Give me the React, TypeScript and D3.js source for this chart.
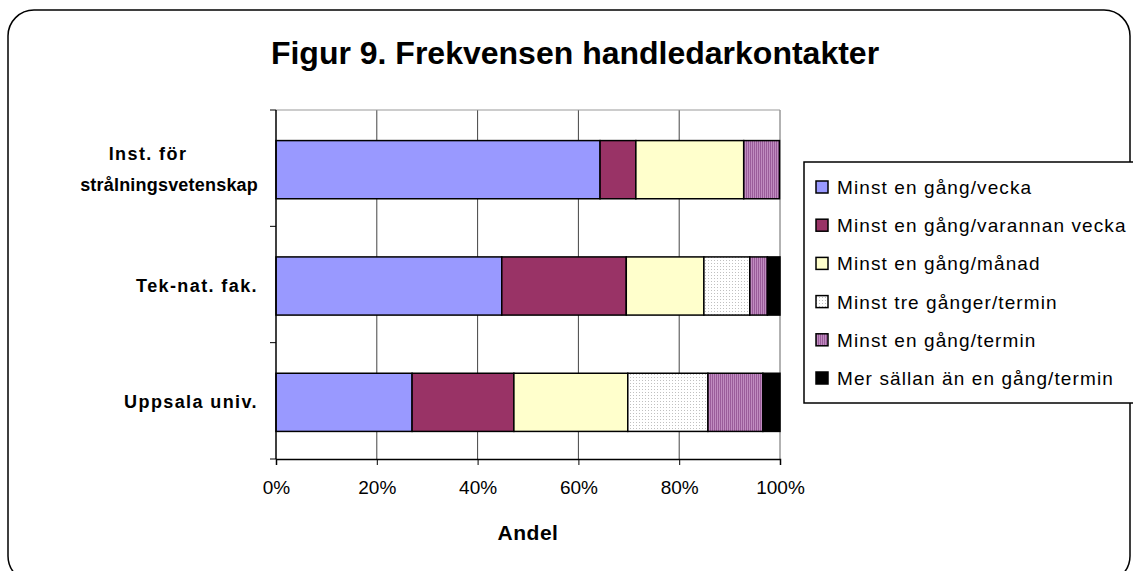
import React, { useRef, useEffect } from 'react';
import * as d3 from 'd3';

const categories = ['Inst. för strålningsvetenskap', 'Tek-nat. fak.', 'Uppsala univ.'];
const categoryLines = [['Inst. för', 'strålningsvetenskap'], ['Tek-nat. fak.'], ['Uppsala univ.']];

const seriesNames = [
  'Minst en gång/vecka',
  'Minst en gång/varannan vecka',
  'Minst en gång/månad',
  'Minst tre gånger/termin',
  'Minst en gång/termin',
  'Mer sällan än en gång/termin',
];

// percent per category, in series order
const instValues = [64.3, 7.1, 21.4, 0, 7.1, 0];
const teknatValues = [44.8, 24.7, 15.4, 9.1, 3.5, 2.5];
const uuValues = [27.0, 20.2, 22.6, 15.9, 10.9, 3.4];

const xTicks = [0, 20, 40, 60, 80, 100];

const fills = ['#9999FF', '#993366', '#FFFFCC', 'url(#dots)', 'url(#stripes)', '#000000'];

const W = 1133;
const H = 571;

const App = () => {
  const ref = useRef(null);

  useEffect(() => {
    const svg = d3.select(ref.current);
    svg.selectAll('*').remove();

    const font = 'Liberation Sans, Arial, sans-serif';
    const margin = { top: 110, right: 353, bottom: 112, left: 276 };
    const innerWidth = W - margin.left - margin.right;
    const innerHeight = H - margin.top - margin.bottom;

    const defs = svg.append('defs');
    const dots = defs
      .append('pattern')
      .attr('id', 'dots')
      .attr('width', 3)
      .attr('height', 3)
      .attr('patternUnits', 'userSpaceOnUse');
    dots.append('rect').attr('width', 3).attr('height', 3).attr('fill', '#ffffff');
    dots.append('rect').attr('width', 1).attr('height', 1).attr('fill', '#c0c0c0');
    const stripes = defs
      .append('pattern')
      .attr('id', 'stripes')
      .attr('width', 2)
      .attr('height', 2)
      .attr('patternUnits', 'userSpaceOnUse');
    stripes.append('rect').attr('width', 2).attr('height', 2).attr('fill', '#c08cc0');
    stripes.append('rect').attr('width', 1).attr('height', 2).attr('fill', '#9a5c9a');

    // outer frame
    svg
      .append('rect')
      .attr('x', 8)
      .attr('y', 10)
      .attr('width', 1122)
      .attr('height', 572)
      .attr('rx', 26)
      .attr('fill', 'white')
      .attr('stroke', 'black')
      .attr('stroke-width', 1.5);

    svg
      .append('text')
      .text('Figur 9. Frekvensen handledarkontakter')
      .attr('x', 575)
      .attr('y', 64)
      .attr('text-anchor', 'middle')
      .style('font-family', font)
      .style('font-weight', 'bold')
      .style('font-size', '32px');

    const x = d3.scaleLinear().domain([0, 100]).range([0, innerWidth]);
    const y = d3
      .scaleBand()
      .domain(categories)
      .range([0, innerHeight])
      .paddingInner(0.5)
      .paddingOuter(0.25);

    const g = svg
      .append('g')
      .attr('transform', `translate(${margin.left}, ${margin.top})`);

    // grid
    g.selectAll('.grid')
      .data(xTicks.slice(1, -1))
      .enter()
      .append('line')
      .attr('x1', (d) => x(d))
      .attr('x2', (d) => x(d))
      .attr('y1', 0)
      .attr('y2', innerHeight)
      .attr('stroke', '#444')
      .attr('stroke-width', 1);
    g.append('line')
      .attr('x1', 0)
      .attr('x2', innerWidth)
      .attr('y1', 0)
      .attr('y2', 0)
      .attr('stroke', '#999');
    g.append('line')
      .attr('x1', innerWidth)
      .attr('x2', innerWidth)
      .attr('y1', 0)
      .attr('y2', innerHeight)
      .attr('stroke', '#999')
      .attr('stroke-width', 1.5);

    const table = [instValues, teknatValues, uuValues];
    const rows = table.map((vals, i) => {
      const row: any = { cat: categories[i] };
      vals.forEach((v, j) => (row[seriesNames[j]] = v));
      return row;
    });
    const stacked = d3.stack().keys(seriesNames)(rows);

    stacked.forEach((layer, j) => {
      g.selectAll(`.s${j}`)
        .data(layer.filter((d) => d[1] - d[0] > 0))
        .enter()
        .append('rect')
        .attr('x', (d) => x(d[0]))
        .attr('width', (d) => x(d[1]) - x(d[0]))
        .attr('y', (d: any) => (y(d.data.cat) as number) + 1.5)
        .attr('height', y.bandwidth())
        .attr('fill', fills[j])
        .attr('stroke', 'black')
        .attr('stroke-width', 1.5);
    });

    // y axis
    g.append('line')
      .attr('x1', 0)
      .attr('x2', 0)
      .attr('y1', 0)
      .attr('y2', innerHeight)
      .attr('stroke', 'black')
      .attr('stroke-width', 1.5);
    const step = y.step();
    d3.range(categories.length + 1).forEach((i) => {
      g.append('line')
        .attr('x1', -6)
        .attr('x2', 0)
        .attr('y1', i * step)
        .attr('y2', i * step)
        .attr('stroke', 'black');
    });

    categories.forEach((c, i) => {
      const lines = categoryLines[i];
      const cy = (y(c) as number) + y.bandwidth() / 2 + 1.5;
      const t = g
        .append('text')
        .style('font-family', font)
        .style('font-weight', 'bold')
        .style('font-size', '18px');
      lines.forEach((ln, k) => {
        const first = lines.length > 1 && k === 0;
        t.append('tspan')
          .text(ln)
          .attr('x', first ? -128 : -18)
          .attr('text-anchor', first ? 'middle' : 'end')
          .style('letter-spacing', lines.length > 1 && k === 1 ? '0.2px' : '1.4px')
          .attr('y', cy + 6 + (k - (lines.length - 1) / 2) * 31);
      });
    });

    // x axis
    const xAxis = d3
      .axisBottom(x)
      .tickValues(xTicks)
      .tickSize(6)
      .tickPadding(16)
      .tickFormat((d) => `${d}%`);
    const ax = g
      .append('g')
      .attr('transform', `translate(0, ${innerHeight})`)
      .call(xAxis);
    ax.select('.domain').attr('stroke', 'black').attr('stroke-width', 1.5);
    ax.selectAll('.tick line').attr('stroke', 'black');
    ax.selectAll('.tick text')
      .attr('fill', 'black')
      .style('font-family', font)
      .style('font-size', '19px');

    svg
      .append('text')
      .text('Andel')
      .attr('x', margin.left + innerWidth / 2)
      .attr('y', 540)
      .attr('text-anchor', 'middle')
      .style('font-family', font)
      .style('font-weight', 'bold')
      .style('font-size', '21px')
      .style('letter-spacing', '0.5px');

    // legend
    const lg = svg.append('g').attr('transform', 'translate(804, 162)');
    lg.append('rect')
      .attr('width', 345)
      .attr('height', 241)
      .attr('fill', 'white')
      .attr('stroke', 'black')
      .attr('stroke-width', 1.5);
    seriesNames.forEach((s, j) => {
      const ly = 25 + j * 38.2;
      lg.append('rect')
        .attr('x', 12)
        .attr('y', ly - 6)
        .attr('width', 12)
        .attr('height', 12)
        .attr('fill', fills[j])
        .attr('stroke', 'black')
        .attr('stroke-width', 1.5);
      lg.append('text')
        .text(s)
        .attr('x', 33)
        .attr('y', ly + 7)
        .style('font-family', font)
        .style('font-size', '19px')
        .style('letter-spacing', '1.1px');
    });
  }, []);

  return (
    <svg
      ref={ref}
      width={W}
      height={H}
      style={{ position: 'absolute', left: 0, top: 0, background: 'white' }}
    />
  );
};

export default App;
